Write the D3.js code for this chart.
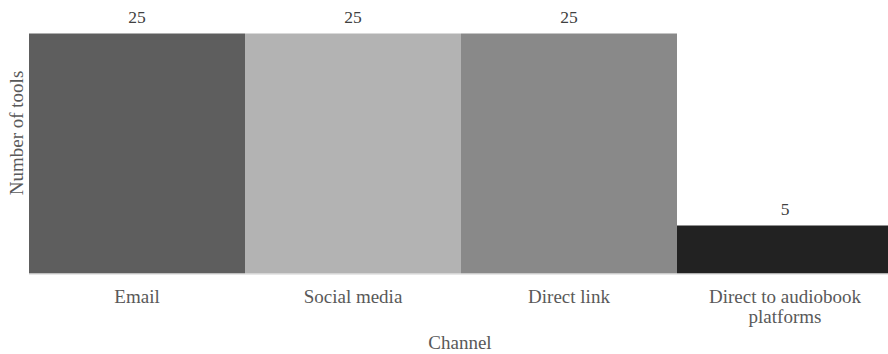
<!DOCTYPE html>
<html>
<head>
<meta charset="utf-8">
<script src="https://cdn.jsdelivr.net/npm/d3@7"></script>
<style>
  body { margin: 0; background: #fff; }
</style>
</head>
<body>
<svg id="chart" width="888" height="354" font-family="'Liberation Serif', 'DejaVu Serif', serif"></svg>
<script>
// ----------------- DATA ----------------- //
var channels = ['Email', 'Social media', 'Direct link', 'Direct to audiobook platforms'];
var tools = [25, 25, 25, 5];
var barColors = ['#5e5e5e', '#b3b3b3', '#898989', '#222222'];

var width = 888, height = 354;
var margin = { top: 33.5, bottom: 80.5, left: 29 };
var bandW = 216; // last bar runs off the right edge in the original

var svg = d3.select('#chart');

var x = d3.scaleBand()
    .domain(channels)
    .range([margin.left, margin.left + bandW * channels.length])
    .padding(0);

var y = d3.scaleLinear()
    .domain([0, 25])
    .range([height - margin.bottom, margin.top]);

// ----------------- BARS ----------------- //
svg.append('g')
    .selectAll('rect')
    .data(channels)
    .join('rect')
    .attr('x', d => x(d))
    .attr('y', (d, i) => y(tools[i]))
    .attr('width', x.bandwidth())
    .attr('height', (d, i) => y(0) - y(tools[i]))
    .attr('fill', (d, i) => barColors[i]);

// value labels
svg.append('g')
    .selectAll('text')
    .data(channels)
    .join('text')
    .attr('x', d => x(d) + x.bandwidth() / 2)
    .attr('y', (d, i) => y(tools[i]) - 10.5)
    .attr('text-anchor', 'middle')
    .attr('font-size', 17.5)
    .attr('fill', '#404040')
    .text((d, i) => tools[i]);

// baseline
svg.append('line')
    .attr('x1', margin.left)
    .attr('x2', width)
    .attr('y1', y(0) + 0.5)
    .attr('y2', y(0) + 0.5)
    .attr('stroke', '#d0d0d0')
    .attr('stroke-width', 1);

// ----------------- X AXIS ----------------- //
var xAxis = svg.append('g')
    .attr('transform', 'translate(0,' + y(0) + ')')
    .call(d3.axisBottom(x).tickSize(0).tickPadding(0));
xAxis.attr('font-family', null).attr('font-size', null);
xAxis.select('.domain').remove();
xAxis.selectAll('text').remove();

// tick labels, wrapped by hand to match the original
var tickLines = {
    'Direct to audiobook platforms': ['Direct to audiobook', 'platforms']
};
xAxis.selectAll('.tick')
    .append('text')
    .attr('text-anchor', 'middle')
    .attr('font-size', 19)
    .attr('fill', '#595959')
    .each(function (d) {
        var lines = tickLines[d] || [d];
        d3.select(this).selectAll('tspan')
            .data(lines)
            .join('tspan')
            .attr('x', 0)
            .attr('y', (l, i) => 29 + i * 20.5)
            .text(l => l);
    });

// axis titles
svg.append('text')
    .attr('x', 460)
    .attr('y', 349)
    .attr('text-anchor', 'middle')
    .attr('font-size', 19)
    .attr('fill', '#595959')
    .text('Channel');

svg.append('text')
    .attr('transform', 'translate(23,133) rotate(-90)')
    .attr('text-anchor', 'middle')
    .attr('font-size', 19)
    .attr('fill', '#595959')
    .text('Number of tools');
</script>
</body>
</html>
